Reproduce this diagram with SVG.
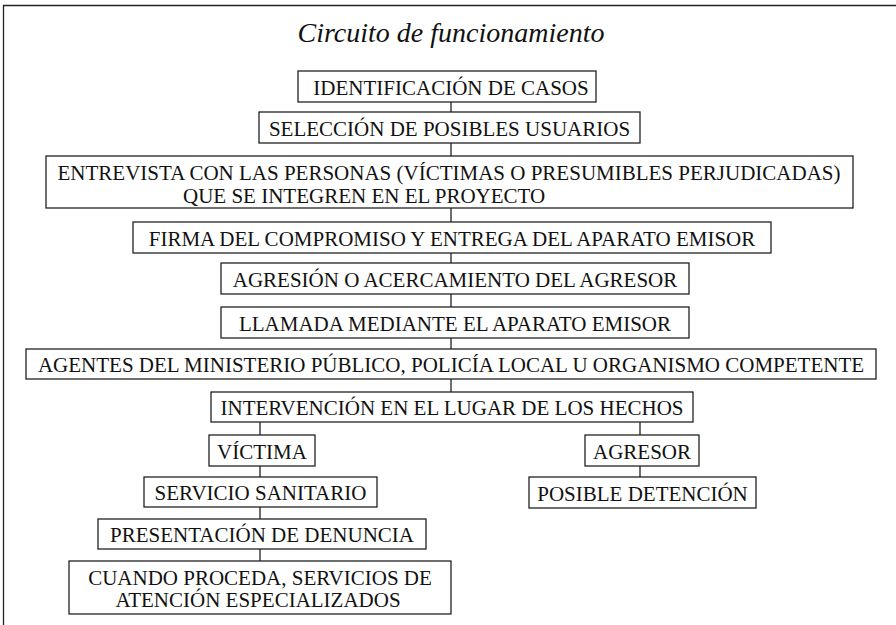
<svg xmlns="http://www.w3.org/2000/svg" width="896" height="625" viewBox="0 0 896 625">
<style>
.b{fill:#fff;stroke:#222;stroke-width:1.3}
.t{font-family:"Liberation Serif","Times New Roman",serif;font-size:21px;fill:#111;text-anchor:middle}
.c{stroke:#222;stroke-width:1.3;fill:none}
</style>
<rect width="896" height="625" fill="#fff"/>
<path class="c" d="M3.5,625 V5.5 H896"/>
<text x="451" y="42" style="font-family:'Liberation Serif','Times New Roman',serif;font-size:28px;font-style:italic;fill:#111;text-anchor:middle">Circuito de funcionamiento</text>
<g id="connectors">
<path class="c" d="M451,102 V112 M451,143 V156 M451,208 V222 M451,253 V263 M451,294 V307 M451,338 V349 M451,379 V392 M260,422 V435 M640,422 V435 M640,466 V477 M260,466 V477 M260,507 V519 M260,549 V561"/>
</g>
<g id="n1"><rect class="b" x="298" y="71" width="298" height="31"/><text class="t" x="451" y="94.5">IDENTIFICACIÓN DE CASOS</text></g>
<g id="n2"><rect class="b" x="259" y="112" width="381" height="31"/><text class="t" x="449.5" y="135.5">SELECCIÓN DE POSIBLES USUARIOS</text></g>
<g id="n3"><rect class="b" x="46" y="156" width="807" height="52"/><text class="t" x="449" y="180">ENTREVISTA CON LAS PERSONAS (VÍCTIMAS O PRESUMIBLES PERJUDICADAS)</text><text class="t" x="183" y="203" style="text-anchor:start">QUE SE INTEGREN EN EL PROYECTO</text></g>
<g id="n4"><rect class="b" x="133" y="222" width="638" height="31"/><text class="t" x="452" y="245.5">FIRMA DEL COMPROMISO Y ENTREGA DEL APARATO EMISOR</text></g>
<g id="n5"><rect class="b" x="221" y="263" width="468" height="31"/><text class="t" x="455" y="286.5">AGRESIÓN O ACERCAMIENTO DEL AGRESOR</text></g>
<g id="n6"><rect class="b" x="221" y="307" width="468" height="31"/><text class="t" x="455" y="330.5">LLAMADA MEDIANTE EL APARATO EMISOR</text></g>
<g id="n7"><rect class="b" x="26" y="349" width="850" height="30"/><text class="t" x="451" y="372">AGENTES DEL MINISTERIO PÚBLICO, POLICÍA LOCAL U ORGANISMO COMPETENTE</text></g>
<g id="n8"><rect class="b" x="211" y="392" width="482" height="30"/><text class="t" x="452" y="415">INTERVENCIÓN EN EL LUGAR DE LOS HECHOS</text></g>
<g id="n9"><rect class="b" x="209" y="435" width="106" height="31"/><text class="t" x="262" y="458.5">VÍCTIMA</text></g>
<g id="n10"><rect class="b" x="585" y="435" width="114" height="31"/><text class="t" x="642" y="458.5">AGRESOR</text></g>
<g id="n11"><rect class="b" x="529" y="477" width="227" height="31"/><text class="t" x="642.5" y="500.5">POSIBLE DETENCIÓN</text></g>
<g id="n12"><rect class="b" x="144" y="477" width="233" height="30"/><text class="t" x="260.5" y="500">SERVICIO SANITARIO</text></g>
<g id="n13"><rect class="b" x="98" y="519" width="328" height="30"/><text class="t" x="262" y="542">PRESENTACIÓN DE DENUNCIA</text></g>
<g id="n14"><rect class="b" x="69" y="561" width="382" height="53"/><text class="t" x="260" y="585">CUANDO PROCEDA, SERVICIOS DE</text><text class="t" x="258" y="607">ATENCIÓN ESPECIALIZADOS</text></g>
</svg>
